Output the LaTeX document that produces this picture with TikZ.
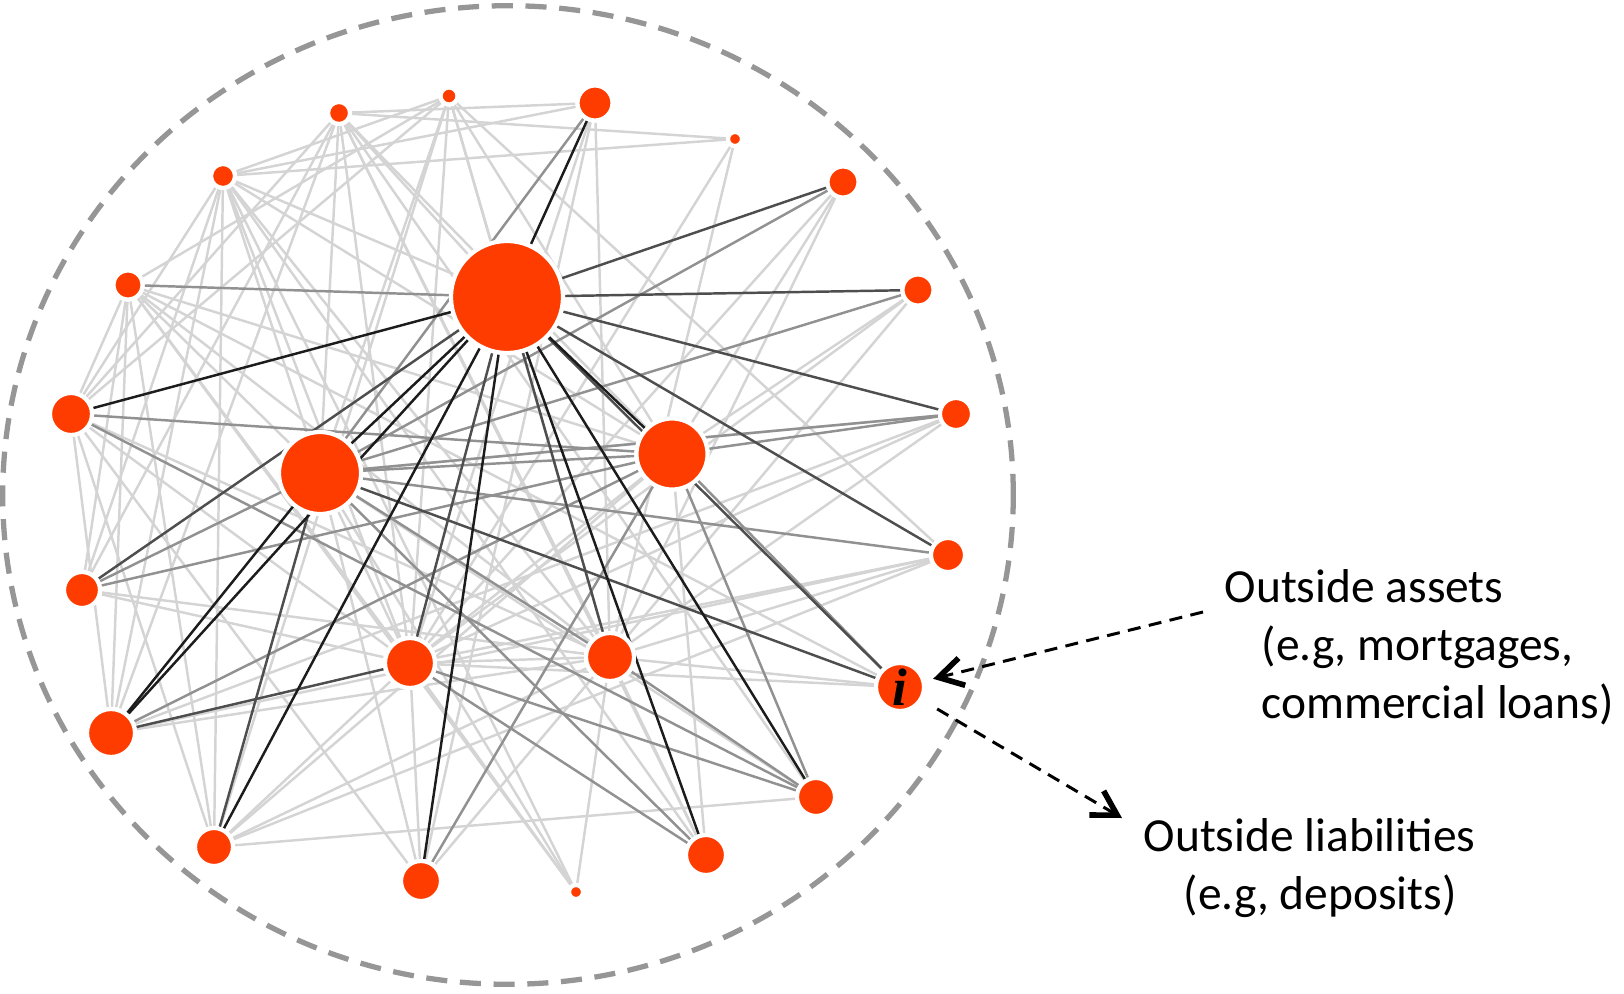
\documentclass[tikz,border=0pt]{standalone}
\usepackage{fontspec}
\setmainfont{Carlito}
\newfontfamily\labelfont{Liberation Serif}
\usetikzlibrary{arrows.meta}
\pgfdeclarelayer{background}
\pgfsetlayers{background,main}

\definecolor{bankred}{RGB}{255,60,0}
\definecolor{ringgray}{RGB}{150,150,150}
\definecolor{linkfaint}{RGB}{212,212,212}
\definecolor{linkmid}{RGB}{145,145,145}
\definecolor{linkdark}{RGB}{78,78,78}
\definecolor{linkblack}{RGB}{28,28,28}

\tikzset{
bank/.style={circle, fill=bankred, draw=white, line width=1.2pt, inner sep=0pt, minimum size=#1},
link/.style={line width=0.7pt, draw=#1},
outside/.style={black, line width=0.85pt, dash pattern=on 3.7pt off 2.4pt,
  -{Straight Barb[length=2.4mm, width=2.8mm, line width=1.6pt]}},
note/.style={inner sep=0pt, font=\fontsize{13.5}{16.4}\selectfont}
}

\begin{document}
\begin{tikzpicture}[x=0.01cm, y=-0.01cm]
\useasboundingbox (0,0) rectangle (1624,994);

% Draw the dashed boundary of the system
\draw[ringgray, line width=1.5pt, dash pattern=on 6pt off 3.6pt]
(508,495) ellipse [x radius=5.05cm, y radius=4.89cm];

% Core banks
\node[bank=1.12cm] (hub) at (507,297) {};
\node[bank=0.82cm] (bigl) at (320,473) {};
\node[bank=0.71cm] (bigr) at (672,454) {};
\node[bank=0.50cm] (midl) at (410,663) {};
\node[bank=0.48cm] (midr) at (610,657) {};

% Peripheral banks (clockwise from the top)
\node[bank=0.22cm] (a) at (339,113) {};
\node[bank=0.17cm] (b) at (449,96) {};
\node[bank=0.35cm] (c) at (595,103) {};
\node[bank=0.14cm] (d) at (735,139) {};
\node[bank=0.31cm] (e) at (843,182) {};
\node[bank=0.31cm] (f) at (918,290) {};
\node[bank=0.32cm] (g) at (956,414) {};
\node[bank=0.34cm] (h) at (948,555) {};
\node[bank=0.48cm] (i) at (900,687) {\labelfont\bfseries\itshape\fontsize{15}{15}\selectfont i};
\node[bank=0.38cm] (j) at (816,797) {};
\node[bank=0.40cm] (k) at (706,855) {};
\node[bank=0.14cm] (l) at (576,892) {};
\node[bank=0.40cm] (m) at (421,881) {};
\node[bank=0.38cm] (n) at (214,847) {};
\node[bank=0.48cm] (o) at (111,733) {};
\node[bank=0.36cm] (p) at (82,590) {};
\node[bank=0.42cm] (q) at (71,414) {};
\node[bank=0.29cm] (r) at (128,285) {};
\node[bank=0.24cm] (s) at (223,176) {};

% Interbank exposures, weakest first
\begin{pgfonlayer}{background}
\foreach \p/\q in {a/d, a/c, a/bigl, a/midl, a/midr, a/bigr, a/hub, a/p, a/q, a/o, a/k, a/j,
  b/s, b/r, b/q, b/midl, b/midr, b/bigr, b/bigl, b/n, b/hub, b/h,
  s/c, s/d, s/p, s/o, s/n, s/q, s/midl, s/midr, s/bigr, s/hub, s/bigl, s/k,
  r/bigl, r/midl, r/midr, r/bigr, r/o, r/q, r/p, r/n, r/i,
  d/midr, d/midl, c/midl, c/m, c/midr, e/midl, e/midr, e/bigr,
  f/midl, f/midr, f/bigr, g/midl, g/midr, g/bigl, g/o,
  h/midl, h/o, h/midr, h/n, i/midl, i/midr, j/bigl, j/n,
  k/bigr, k/midr, l/midl, l/bigl, l/s, l/r, l/midr,
  m/midl, m/bigl, m/q, m/midr, n/midl, n/midr, n/bigr,
  o/midr, p/midr, p/midl, q/midr, q/midl, q/o, q/n,
  midl/midr, midl/bigr, midl/bigl}
  \draw[link=linkfaint] (\p) -- (\q);
\foreach \p/\q in {bigr/q, bigr/p, bigl/p, bigr/o, bigl/e, bigl/c, bigr/g, bigl/h,
  bigr/j, midl/j, midr/j, bigl/k, midl/k, bigr/m, bigl/bigr, midr/bigl,
  bigr/i, hub/r, f/bigl, q/j, bigl/g}
  \draw[link=linkmid] (\p) -- (\q);
\foreach \p/\q in {hub/e, hub/f, hub/g, hub/h, hub/i, hub/p, hub/midl, hub/midr,
  bigl/i, bigl/n, midl/o}
  \draw[link=linkdark] (\p) -- (\q);
\foreach \p/\q in {hub/q, hub/c, hub/k, hub/m, hub/o, hub/bigl, hub/j, hub/n,
  bigl/o, hub/bigr}
  \draw[link=linkblack] (\p) -- (\q);
\end{pgfonlayer}

% Outside assets and liabilities of bank i
\node[note, anchor=north west, align=left] (assets) at (1224,569)
{Outside assets\\\hspace*{10.5pt}(e.g, mortgages,\\\hspace*{10.5pt}commercial loans)};
\node[note, anchor=north west, align=left] (liab) at (1143,818)
{Outside liabilities\\\hspace*{11.4pt}(e.g, deposits)};

\coordinate (assetsfrom) at (1203,612);
\coordinate (liabto) at (1122,818);
\draw[outside, shorten >=0.08cm] (assetsfrom) -- (i);
\draw[outside, shorten <=0.17cm] (i) -- (liabto);

\end{tikzpicture}
\end{document}
